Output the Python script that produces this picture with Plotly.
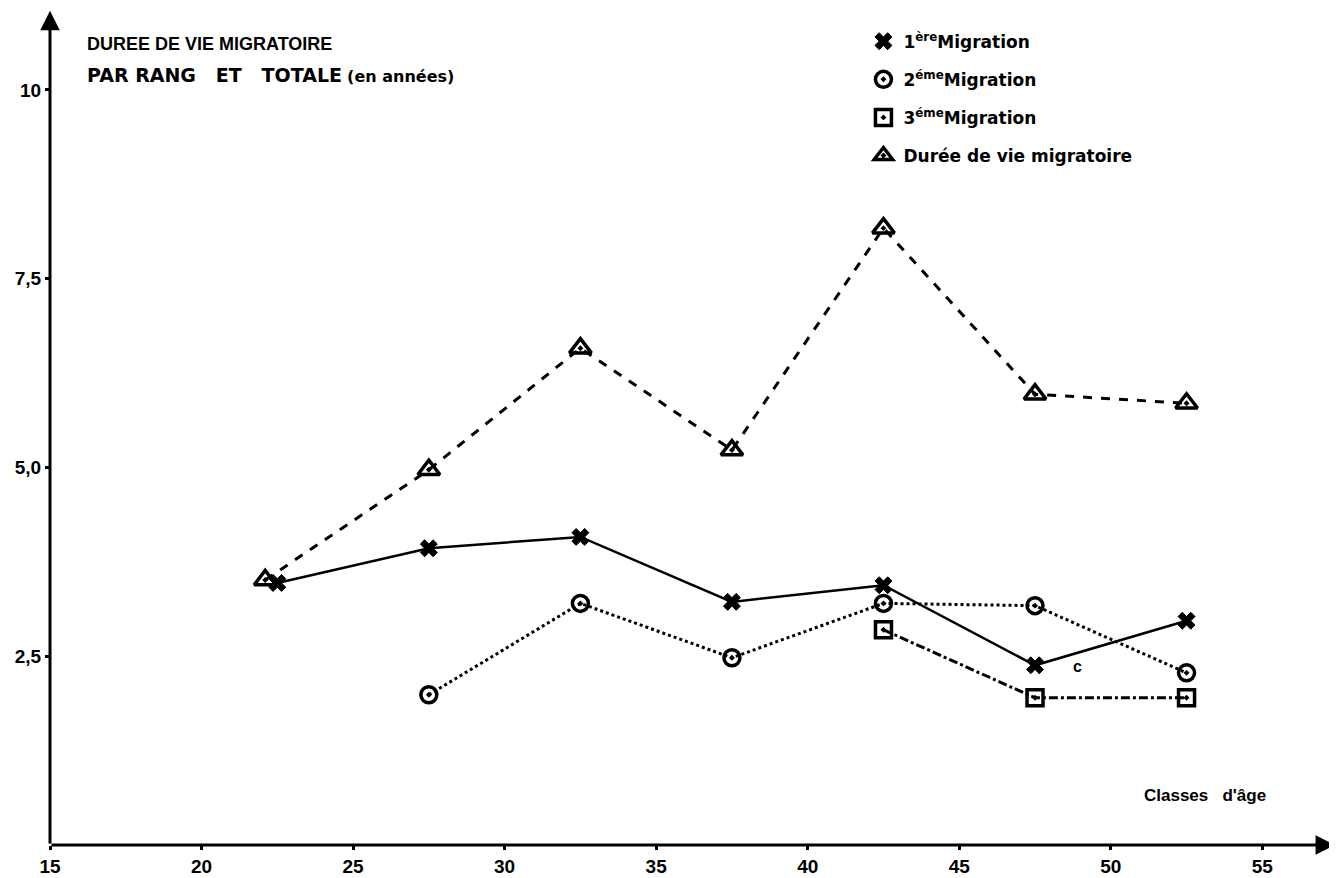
import plotly.graph_objects as go

# Data
ages = [22.5, 27.5, 32.5, 37.5, 42.5, 47.5, 52.5]
ages_total = [22.1, 27.5, 32.5, 37.5, 42.5, 47.5, 52.5]
ages_m2 = [27.5, 32.5, 37.5, 42.5, 47.5, 52.5]
ages_m3 = [42.5, 47.5, 52.5]

migration1 = [3.47, 3.93, 4.08, 3.22, 3.44, 2.38, 2.97]
migration2 = [1.99, 3.20, 2.48, 3.20, 3.17, 2.28]
migration3 = [2.85, 1.95, 1.95]
duree_totale = [3.51, 4.97, 6.58, 5.23, 8.17, 5.97, 5.85]

x_ticks = [15, 20, 25, 30, 35, 40, 45, 50, 55]
x_ticklabels = ["15", "20", "25", "30", "35", "40", "45", "50", "55"]
y_ticks = [2.5, 5.0, 7.5, 10]
y_ticklabels = ["2,5", "5,0", "7,5", "10"]

legend_names = ["1<sup>ère</sup>Migration", "2<sup>éme</sup>Migration",
                "3<sup>éme</sup>Migration", "Durée de vie migratoire"]

FONT = "Liberation Sans"
WIDE = "DejaVu Sans"
BLACK = "black"

series = [
    (ages, migration1, "solid", "x", 15, 2.5),
    (ages_m2, migration2, "dot", "circle-open-dot", 16, 3),
    (ages_m3, migration3, "dashdot", "square-open-dot", 16, 3),
    (ages_total, duree_totale, "dash", "triangle-up-open-dot", 19, 3),
]

fig = go.Figure()
for i, (xs, ys, dash, sym, size, lw) in enumerate(series):
    fig.add_trace(go.Scatter(
        x=xs, y=ys, mode="lines+markers", showlegend=False, cliponaxis=False,
        line=dict(color=BLACK, width=lw, dash=dash),
        marker=dict(symbol=sym, size=size, color=BLACK,
                    line=dict(color=BLACK, width=3.5 if "open" in sym else 1)),
    ))

# legend-only traces (markers only)
for i, (xs, ys, dash, sym, size, lw) in enumerate(series):
    fig.add_trace(go.Scatter(
        x=[None], y=[None], mode="markers", name=legend_names[i],
        legendgroup=str(i),
        marker=dict(symbol=sym, size=size, color=BLACK,
                    line=dict(color=BLACK, width=3.5 if "open" in sym else 1)),
    ))

# axes with arrowheads
fig.add_annotation(x=57.4, y=0, ax=15, ay=0, xref="x", yref="y", axref="x", ayref="y",
                   text="", showarrow=True, arrowhead=2, arrowsize=1.3, arrowwidth=3,
                   arrowcolor=BLACK, standoff=0)
fig.add_annotation(x=15, y=11.05, ax=15, ay=0, xref="x", yref="y", axref="x", ayref="y",
                   text="", showarrow=True, arrowhead=2, arrowsize=1.3, arrowwidth=3,
                   arrowcolor=BLACK, standoff=0)

# title text
fig.add_annotation(x=0.027, y=0.988, xref="paper", yref="paper", xanchor="left", yanchor="top",
                   text="<b>DUREE DE VIE MIGRATOIRE</b>", showarrow=False,
                   font=dict(family=FONT, size=18, color=BLACK))
fig.add_annotation(x=0.027, y=0.952, xref="paper", yref="paper", xanchor="left", yanchor="top",
                   text="<b>PAR RANG&nbsp;&nbsp; ET&nbsp;&nbsp; TOTALE</b>"
                        "<span style='font-size:16px'>&nbsp;<b>(en années)</b></span>",
                   showarrow=False, font=dict(family=WIDE, size=19, color=BLACK))

fig.add_annotation(x=53.1, y=0.66, xref="x", yref="y", text="<b>Classes&nbsp;&nbsp; d'âge</b>",
                   showarrow=False, font=dict(family=FONT, size=17, color=BLACK))
fig.add_annotation(x=48.9, y=2.36, xref="x", yref="y", text="<b>c</b>",
                   showarrow=False, font=dict(family=FONT, size=16, color=BLACK))

fig.update_xaxes(range=[15, 57.2], tickvals=x_ticks, ticktext=x_ticklabels,
                 showgrid=False, zeroline=False, showline=False, automargin=False,
                 ticks="outside", ticklen=4, tickwidth=3, tickcolor=BLACK,
                 tickfont=dict(family=FONT, size=19, color=BLACK, weight="bold"))
fig.update_yaxes(range=[0, 10.9], tickvals=y_ticks, ticktext=y_ticklabels,
                 showgrid=False, zeroline=False, showline=False, automargin=False,
                 ticks="outside", ticklen=4, tickwidth=3, tickcolor=BLACK,
                 tickfont=dict(family=FONT, size=19, color=BLACK, weight="bold"))

# the page body has an 8px margin, so the figure is shifted by 8px
fig.update_layout(
    width=1329, height=870,
    margin=dict(l=42, r=8, t=14, b=33),
    paper_bgcolor="white", plot_bgcolor="white",
    legend=dict(x=0.636, y=0.998, xanchor="left", yanchor="top",
                font=dict(family=WIDE, size=17, color=BLACK, weight="bold"),
                bgcolor="rgba(0,0,0,0)", tracegroupgap=13, itemwidth=30),
)

fig.write_html("out.html")
